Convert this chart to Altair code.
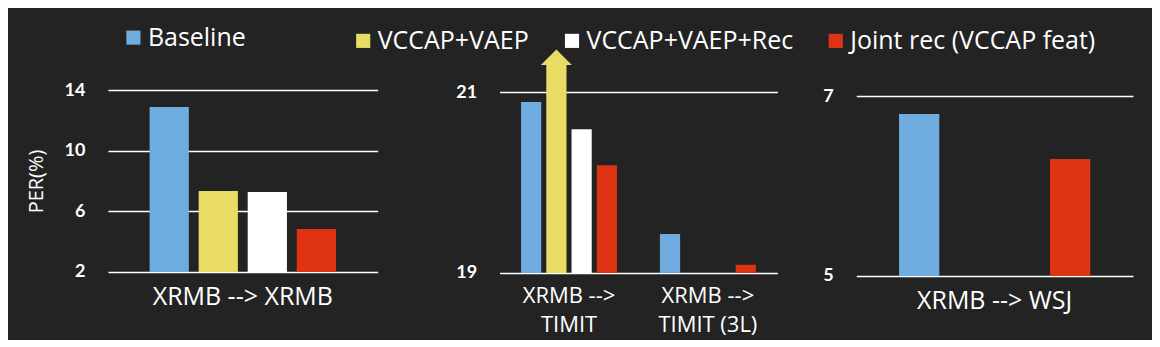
import altair as alt
import pandas as pd

SERIES = ["Baseline", "VCCAP+VAEP", "VCCAP+VAEP+Rec", "Joint rec (VCCAP feat)"]
COLORS = ["#6FACE0", "#E9DC65", "#FFFFFF", "#DF3414"]

xrmb_tasks = ["XRMB --> XRMB"]
xrmb_per = [12.88, 7.34, 7.27, 4.83]

timit_tasks = ["XRMB --> TIMIT", "XRMB --> TIMIT (3L)"]
timit_per = [20.89, 21.3, 20.59, 20.19]      # VCCAP+VAEP runs off the chart (arrow)
timit3l_per = [19.43, None, None, 19.09]

wsj_tasks = ["XRMB --> WSJ"]
wsj_per = [6.8, None, None, 6.3]

FONT = "Open Sans"
NUMFONT = "Lato"
BG = "#232323"
GAP = 79          # spacing between panels
MID_SHIFT = 43    # extra room left of the middle plot


def long_df(tasks, rows):
    recs = []
    for t, vals in zip(tasks, rows):
        for s, v in zip(SERIES, vals):
            if v is not None:
                recs.append({"task": t, "series": s, "value": v})
    return pd.DataFrame(recs)


def encodings(tasks, ydomain, yticks, xlabel_size, ytitle=None, split=False,
              xrange=None, yrange=None, yoffset=0):
    xaxis = dict(title=None, labelAngle=0, labelColor="white", labelFont=FONT,
                 labelFontSize=xlabel_size, labelPadding=13, labelLimit=0,
                 domain=False, ticks=False, grid=False)
    if split:
        xaxis.update(labelExpr="[slice(datum.label, 0, 8), slice(datum.label, 9)]",
                     labelLineHeight=29)
    yaxis = dict(values=yticks, format="d", grid=True, gridColor="white",
                 gridWidth=1.5, gridOpacity=1, domain=False, ticks=False,
                 labelColor="white", labelFont=NUMFONT, labelFontSize=18,
                 labelFontWeight="bold", labelPadding=23, offset=yoffset)
    if ytitle:
        yaxis.update(title=ytitle, titleColor="white", titleFont=FONT,
                     titleFontSize=20, titleFontWeight="normal", titlePadding=18)
    else:
        yaxis.update(title=None)
    xscale = dict(domain=tasks, paddingInner=0, paddingOuter=0)
    if xrange is not None:
        xscale["range"] = xrange
    yscale = dict(domain=ydomain, nice=False, zero=False)
    if yrange is not None:
        yscale["range"] = yrange
    return dict(
        x=alt.X("task:N", sort=tasks, scale=alt.Scale(**xscale),
                axis=alt.Axis(**xaxis)),
        xOffset=alt.XOffset("series:N", sort=SERIES,
                            scale=alt.Scale(domain=SERIES, paddingInner=0.2,
                                            paddingOuter=0.85)),
        y=alt.Y("value:Q", scale=alt.Scale(**yscale), axis=alt.Axis(**yaxis)),
    )


def color_enc(legend):
    return alt.Color("series:N", scale=alt.Scale(domain=SERIES, range=COLORS),
                     legend=legend)


def make_legend(values, lx, ly):
    return alt.Legend(values=values, orient="none", legendX=lx, legendY=ly,
                      direction="horizontal", title=None, symbolType="square",
                      symbolSize=200, symbolStrokeWidth=0, labelFont=FONT,
                      labelFontSize=25, labelColor="white", labelOffset=2,
                      labelLimit=0, columnPadding=30, padding=0)


# left panel
left_df = long_df(xrmb_tasks, [xrmb_per])
left = alt.Chart(left_df).mark_bar().encode(
    color=color_enc(make_legend(["Baseline"], 13, -65)),
    y2=alt.datum(2),
    **encodings(xrmb_tasks, [2, 14], [2, 6, 10, 14], 25, ytitle="PER(%)"),
).properties(width=270, height=182)

# middle panel
MID_W = 278 + MID_SHIFT
mid_df = long_df(timit_tasks, [timit_per, timit3l_per])
mid_enc = encodings(timit_tasks, [19, 21], [19, 20, 21], 22, split=True,
                    xrange=[MID_SHIFT, MID_W], yrange=[183, 2],
                    yoffset=-MID_SHIFT)
mid_bars = alt.Chart(mid_df).mark_bar().encode(
    color=color_enc(make_legend(SERIES[1:], -106, -62)), y2=alt.datum(19),
    **mid_enc)
arrow = alt.Chart(mid_df).transform_filter(
    alt.datum.series == SERIES[1]
).mark_point(shape="M-1,0L0,-1L1,0Z", size=961, filled=True, opacity=1,
             color=COLORS[1], strokeWidth=0).encode(**mid_enc)
mid = alt.layer(mid_bars, arrow).properties(width=MID_W, height=183)

# right panel
right_df = long_df(wsj_tasks, [wsj_per])
right = alt.Chart(right_df).mark_bar().encode(
    color=color_enc(None), y2=alt.datum(5),
    **encodings(wsj_tasks, [5, 7], [5, 6, 7], 25, yrange=[186, 6]),
).properties(width=277, height=186)

chart = alt.hconcat(left, mid, right, spacing=GAP, bounds="flush").resolve_scale(
    color="independent", xOffset="independent"
).properties(
    background=BG,
    padding={"left": 18, "top": 17, "right": 19, "bottom": 4},
).configure_view(stroke=None)

chart.save("out.html", embed_options={"renderer": "svg", "actions": False})
